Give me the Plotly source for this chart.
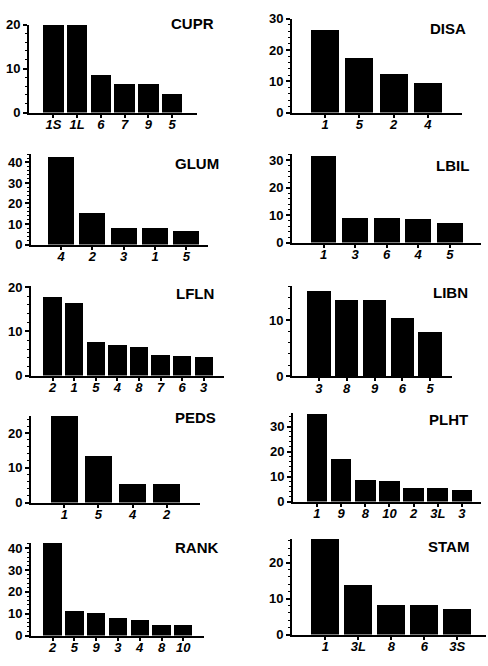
import plotly.graph_objects as go

W, H = 488, 666

# ---- data ----
cupr_cats = ["1S", "1L", "6", "7", "9", "5"]
cupr_vals = [20, 20, 8.7, 6.7, 6.7, 4.4]

disa_cats = ["1", "5", "2", "4"]
disa_vals = [26.4, 17.4, 12.4, 9.7]

glum_cats = ["4", "2", "3", "1", "5"]
glum_vals = [42.7, 15.5, 8.4, 8.4, 6.8]

lbil_cats = ["1", "3", "6", "4", "5"]
lbil_vals = [31.5, 9.25, 9.25, 8.7, 7.2]

lfln_cats = ["2", "1", "5", "4", "8", "7", "6", "3"]
lfln_vals = [18.0, 16.6, 7.8, 7.0, 6.5, 4.7, 4.6, 4.2]

libn_cats = ["3", "8", "9", "6", "5"]
libn_vals = [15.2, 13.6, 13.6, 10.5, 8.0]

peds_cats = ["1", "5", "4", "2"]
peds_vals = [25.0, 13.6, 5.6, 5.5]

plht_cats = ["1", "9", "8", "10", "2", "3L", "3"]
plht_vals = [35.4, 17.3, 8.8, 8.5, 5.5, 5.5, 4.6]

rank_cats = ["2", "5", "9", "3", "4", "8", "10"]
rank_vals = [42.5, 11.4, 10.7, 8.3, 7.4, 4.9, 4.9]

stam_cats = ["1", "3L", "8", "6", "3S"]
stam_vals = [26.5, 13.9, 8.25, 8.25, 7.2]

titles = ["CUPR", "DISA", "GLUM", "LBIL", "LFLN", "LIBN", "PEDS", "PLHT", "RANK", "STAM"]
cats = [cupr_cats, disa_cats, glum_cats, lbil_cats, lfln_cats, libn_cats,
        peds_cats, plht_cats, rank_cats, stam_cats]
vals = [cupr_vals, disa_vals, glum_vals, lbil_vals, lfln_vals, libn_vals,
        peds_vals, plht_vals, rank_vals, stam_vals]

# ---- layout (pixel geometry) ----
panels = [
    dict(x=(29, 197), y=(108, 18), ytop=20, xr=(-1.03, 6.05), bw=0.86, tv=[0, 10, 20], title=(192, 17)),
    dict(x=(292, 462), y=(108, 12), ytop=30, xr=(-0.97, 4.0), bw=0.82, tv=[0, 10, 20, 30], title=(448, 22)),
    dict(x=(31, 208), y=(243, 150), ytop=44.3, xr=(-0.96, 4.69), bw=0.83, tv=[0, 10, 20, 30, 40], title=(197, 160)),
    dict(x=(292, 481), y=(241, 150), ytop=32.4, xr=(-1.0, 4.99), bw=0.82, tv=[0, 10, 20, 30], title=(452, 162)),
    dict(x=(31, 224), y=(377, 285), ytop=20.4, xr=(-1.0, 7.94), bw=0.85, tv=[0, 10, 20], title=(195, 293)),
    dict(x=(292, 452), y=(378, 285), ytop=16.1, xr=(-0.97, 4.79), bw=0.84, tv=[0, 10], title=(450, 292)),
    dict(x=(31, 200), y=(507, 418), ytop=25.0, xr=(-0.98, 3.98), bw=0.81, tv=[0, 10, 20], title=(195, 420)),
    dict(x=(293, 481), y=(506, 415), ytop=35.6, xr=(-0.99, 6.79), bw=0.855, tv=[0, 10, 20, 30], title=(448, 422)),
    dict(x=(31, 204), y=(643, 548), ytop=42.6, xr=(-0.99, 6.95), bw=0.84, tv=[0, 10, 20, 30, 40], title=(196, 553)),
    dict(x=(292, 486), y=(642, 544), ytop=26.6, xr=(-1.01, 4.87), bw=0.84, tv=[0, 10, 20], title=(448, 552)),
]

fig = go.Figure()
layout = dict(
    width=W, height=H,
    margin=dict(l=0, r=0, t=0, b=0),
    paper_bgcolor="white", plot_bgcolor="white",
    showlegend=False,
    bargap=0,
)
annotations = []
tickfont = dict(family="Liberation Sans, Arial, sans-serif", size=13, color="black")

for i, p in enumerate(panels):
    n = i + 1
    xa = "x" if n == 1 else f"x{n}"
    ya = "y" if n == 1 else f"y{n}"
    fig.add_trace(go.Bar(
        x=list(range(len(cats[i]))), y=vals[i], width=p["bw"],
        marker=dict(color="black", line=dict(width=0)),
        xaxis=xa, yaxis=ya, hoverinfo="skip",
    ))
    xk = "xaxis" if n == 1 else f"xaxis{n}"
    yk = "yaxis" if n == 1 else f"yaxis{n}"
    layout[xk] = dict(
        domain=[p["x"][0] / W, p["x"][1] / W],
        anchor=ya, range=list(p["xr"]),
        tickmode="array", tickvals=list(range(len(cats[i]))),
        ticktext=[f"<b><i>{c}</i></b>" for c in cats[i]],
        ticks="outside", ticklen=3, tickwidth=1.5, tickcolor="black",
        ticklabelstandoff=-4,
        showline=True, linecolor="black", linewidth=2,
        showgrid=False, zeroline=False, fixedrange=True,
        tickfont=tickfont,
    )
    layout[yk] = dict(
        domain=[1 - p["y"][0] / H, 1 - p["y"][1] / H],
        anchor=xa, range=[0, p["ytop"]],
        tickmode="array", tickvals=p["tv"],
        ticktext=[f"<b>{v}</b>" for v in p["tv"]],
        ticks="outside", ticklen=4, tickwidth=1.5, tickcolor="black",
        minor=dict(dtick=2, ticks="outside", ticklen=2, tickwidth=1, tickcolor="black", tick0=0),
        showline=True, linecolor="black", linewidth=2,
        showgrid=False, zeroline=False, fixedrange=True,
        tickfont=tickfont,
    )
    annotations.append(dict(
        x=p["title"][0] / W, y=1 - p["title"][1] / H, xref="paper", yref="paper",
        text=f"<b>{titles[i]}</b>", showarrow=False,
        xanchor="center", yanchor="middle",
        font=dict(family="Liberation Sans, Arial, sans-serif", size=15, color="black"),
    ))

layout["annotations"] = annotations
fig.update_layout(**layout)
fig.write_html("out.html")
